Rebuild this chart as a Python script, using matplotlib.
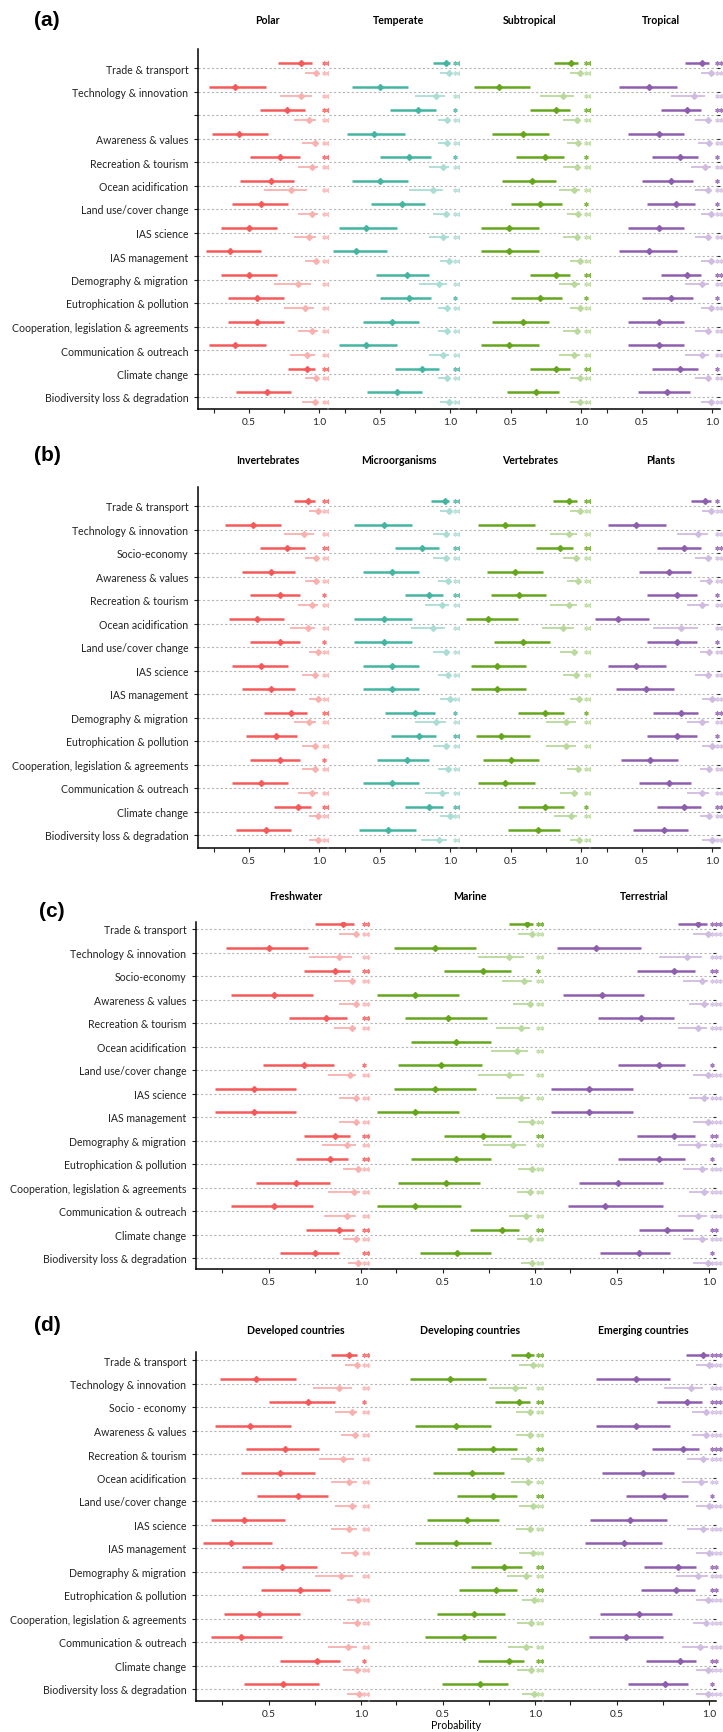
import matplotlib
matplotlib.use("Agg")
import matplotlib.pyplot as plt
from matplotlib.transforms import offset_copy

plt.rcParams['font.family'] = ['Lato', 'DejaVu Sans']

# ---- row labels ----
rows_a = ["Trade & transport", "Technology & innovation", "", "Awareness & values",
          "Recreation & tourism", "Ocean acidification", "Land use/cover change",
          "IAS science", "IAS management", "Demography & migration",
          "Eutrophication & pollution", "Cooperation, legislation & agreements",
          "Communication & outreach", "Climate change", "Biodiversity loss & degradation"]
rows_bc = rows_a[:2] + ["Socio-economy"] + rows_a[3:]
rows_d = rows_a[:2] + ["Socio - economy"] + rows_a[3:]

# ---- colours (dark, light) ----
red = ("#F55A5A", "#F9B1AF")
teal = ("#45B5A2", "#AADDD4")
green = ("#66A61E", "#BAD99C")
purple = ("#8E5EAE", "#D0BBE1")

# ---- data: (low, estimate, high) per row; stars = (dark, light) ----
# panel (a)
polar_dark = [(0.71, 0.87, 0.95), (0.22, 0.40, 0.62), (0.58, 0.77, 0.90), (0.24, 0.43, 0.64),
              (0.51, 0.72, 0.86), (0.44, 0.66, 0.82), (0.38, 0.59, 0.78), (0.30, 0.50, 0.70),
              (0.20, 0.37, 0.59), (0.30, 0.50, 0.70), (0.35, 0.56, 0.75), (0.35, 0.56, 0.75),
              (0.22, 0.40, 0.62), (0.78, 0.91, 0.97), (0.41, 0.63, 0.80)]
polar_light = [(0.90, 0.98, 0.99), (0.72, 0.87, 0.95), (0.82, 0.93, 0.98), (0.88, 0.97, 0.99),
               (0.85, 0.95, 0.99), (0.61, 0.80, 0.91), (0.85, 0.95, 0.99), (0.82, 0.93, 0.98),
               (0.90, 0.98, 0.99), (0.68, 0.85, 0.94), (0.75, 0.90, 0.96), (0.85, 0.95, 0.99),
               (0.79, 0.91, 0.97), (0.90, 0.98, 0.99), (0.88, 0.97, 0.99)]
polar_stars = [(3, 3), (0, 3), (3, 3), (0, 3), (3, 3), (0, 2), (0, 3), (0, 3),
               (0, 3), (0, 3), (0, 3), (0, 3), (0, 3), (3, 3), (0, 3)]

temperate_dark = [(0.88, 0.97, 0.995), (0.30, 0.50, 0.70), (0.57, 0.77, 0.90), (0.27, 0.46, 0.68),
                  (0.50, 0.71, 0.86), (0.30, 0.50, 0.70), (0.44, 0.66, 0.82), (0.21, 0.40, 0.62),
                  (0.17, 0.33, 0.55), (0.47, 0.69, 0.85), (0.50, 0.71, 0.86), (0.38, 0.59, 0.78),
                  (0.21, 0.40, 0.62), (0.61, 0.80, 0.92), (0.41, 0.62, 0.80)]
temperate_light = [(0.93, 0.99, 1.0), (0.75, 0.90, 0.96), (0.91, 0.98, 1.0), (0.91, 0.98, 1.0),
                   (0.85, 0.95, 0.99), (0.71, 0.88, 0.95), (0.88, 0.97, 1.0), (0.85, 0.95, 0.99),
                   (0.93, 0.99, 1.0), (0.78, 0.92, 0.98), (0.91, 0.98, 1.0), (0.91, 0.98, 1.0),
                   (0.85, 0.95, 0.99), (0.91, 0.98, 1.0), (0.93, 0.99, 1.0)]
temperate_stars = [(3, 3), (0, 3), (1, 3), (0, 3), (1, 3), (0, 3), (0, 3), (0, 3),
                   (0, 3), (0, 3), (1, 3), (0, 3), (0, 3), (2, 3), (0, 3)]

subtropical_dark = [(0.81, 0.93, 0.98), (0.24, 0.42, 0.64), (0.64, 0.82, 0.92), (0.37, 0.59, 0.77),
                    (0.54, 0.74, 0.88), (0.44, 0.65, 0.82), (0.50, 0.71, 0.86), (0.29, 0.49, 0.70),
                    (0.29, 0.49, 0.70), (0.64, 0.82, 0.92), (0.50, 0.71, 0.86), (0.37, 0.59, 0.77),
                    (0.29, 0.49, 0.70), (0.64, 0.82, 0.92), (0.47, 0.68, 0.84)]
subtropical_light = [(0.92, 0.99, 1.0), (0.71, 0.87, 0.95), (0.87, 0.97, 0.99), (0.90, 0.98, 0.995),
                     (0.87, 0.97, 0.99), (0.84, 0.95, 0.99), (0.90, 0.98, 0.995), (0.87, 0.97, 0.99),
                     (0.92, 0.99, 1.0), (0.84, 0.95, 0.99), (0.92, 0.99, 1.0), (0.87, 0.97, 0.99),
                     (0.84, 0.95, 0.99), (0.92, 0.99, 1.0), (0.92, 0.99, 1.0)]
subtropical_stars = [(3, 3), (0, 3), (2, 3), (0, 3), (1, 3), (0, 3), (1, 3), (0, 3),
                     (0, 3), (2, 3), (1, 3), (0, 3), (0, 3), (2, 3), (0, 3)]

tropical_dark = [(0.81, 0.93, 0.98), (0.34, 0.55, 0.75), (0.64, 0.82, 0.92), (0.40, 0.62, 0.80),
                 (0.57, 0.77, 0.90), (0.50, 0.71, 0.86), (0.54, 0.74, 0.88), (0.40, 0.62, 0.80),
                 (0.34, 0.55, 0.75), (0.64, 0.82, 0.92), (0.50, 0.71, 0.86), (0.40, 0.62, 0.80),
                 (0.40, 0.62, 0.80), (0.57, 0.77, 0.90), (0.47, 0.68, 0.84)]
tropical_light = [(0.92, 0.99, 1.0), (0.71, 0.87, 0.95), (0.88, 0.97, 0.99), (0.90, 0.98, 0.995),
                  (0.85, 0.95, 0.99), (0.88, 0.97, 0.99), (0.92, 0.99, 1.0), (0.88, 0.97, 0.99),
                  (0.92, 0.99, 1.0), (0.81, 0.93, 0.98), (0.92, 0.99, 1.0), (0.88, 0.97, 0.99),
                  (0.81, 0.93, 0.98), (0.88, 0.97, 0.99), (0.92, 0.99, 1.0)]
tropical_stars = [(3, 3), (0, 3), (2, 3), (0, 3), (1, 3), (1, 3), (1, 3), (0, 3),
                  (0, 3), (2, 3), (1, 3), (0, 3), (0, 3), (1, 3), (0, 3)]

# panel (b)
invert_dark = [(0.82, 0.92, 0.97), (0.33, 0.53, 0.73), (0.58, 0.77, 0.90), (0.45, 0.66, 0.83),
               (0.51, 0.72, 0.86), (0.36, 0.56, 0.75), (0.51, 0.72, 0.86), (0.38, 0.59, 0.78),
               (0.45, 0.66, 0.83), (0.61, 0.80, 0.91), (0.48, 0.69, 0.84), (0.51, 0.72, 0.86),
               (0.38, 0.59, 0.78), (0.68, 0.85, 0.94), (0.41, 0.62, 0.80)]
invert_light = [(0.93, 0.99, 1.0), (0.75, 0.89, 0.96), (0.90, 0.98, 0.995), (0.90, 0.98, 0.995),
                (0.85, 0.95, 0.99), (0.79, 0.92, 0.97), (0.93, 0.99, 1.0), (0.88, 0.97, 0.99),
                (0.93, 0.99, 1.0), (0.82, 0.93, 0.98), (0.88, 0.97, 0.99), (0.88, 0.97, 0.99),
                (0.85, 0.95, 0.99), (0.93, 0.99, 1.0), (0.93, 0.99, 1.0)]
invert_stars = [(3, 3), (0, 3), (2, 3), (0, 3), (1, 3), (0, 3), (1, 3), (0, 3),
                (0, 3), (2, 3), (0, 3), (1, 3), (0, 3), (3, 3), (0, 3)]

micro_dark = [(0.86, 0.96, 0.99), (0.32, 0.53, 0.73), (0.61, 0.80, 0.92), (0.38, 0.59, 0.78),
              (0.68, 0.85, 0.95), (0.32, 0.53, 0.73), (0.32, 0.53, 0.73), (0.38, 0.59, 0.78),
              (0.38, 0.59, 0.78), (0.54, 0.75, 0.89), (0.58, 0.78, 0.90), (0.48, 0.69, 0.85),
              (0.38, 0.59, 0.78), (0.68, 0.85, 0.95), (0.35, 0.56, 0.76)]
micro_light = [(0.93, 0.99, 1.0), (0.88, 0.97, 0.995), (0.88, 0.97, 0.995), (0.91, 0.985, 1.0),
               (0.82, 0.94, 0.99), (0.72, 0.88, 0.96), (0.88, 0.97, 0.995), (0.91, 0.985, 1.0),
               (0.93, 0.995, 1.0), (0.75, 0.90, 0.97), (0.88, 0.97, 0.995), (0.91, 0.985, 1.0),
               (0.82, 0.94, 0.99), (0.93, 0.995, 1.0), (0.79, 0.92, 0.98)]
micro_stars = [(3, 3), (0, 3), (2, 3), (0, 3), (3, 3), (0, 3), (0, 3), (0, 3),
               (0, 3), (1, 3), (2, 3), (0, 3), (0, 3), (3, 3), (0, 3)]

vert_dark = [(0.80, 0.91, 0.97), (0.27, 0.46, 0.67), (0.68, 0.85, 0.94), (0.33, 0.53, 0.73),
             (0.36, 0.56, 0.75), (0.18, 0.34, 0.55), (0.38, 0.59, 0.78), (0.22, 0.40, 0.61),
             (0.22, 0.40, 0.61), (0.55, 0.74, 0.88), (0.25, 0.43, 0.64), (0.30, 0.50, 0.70),
             (0.27, 0.46, 0.67), (0.55, 0.74, 0.88), (0.48, 0.69, 0.85)]
vert_light = [(0.92, 0.99, 1.0), (0.78, 0.91, 0.97), (0.87, 0.96, 0.99), (0.90, 0.98, 0.99),
              (0.78, 0.91, 0.97), (0.72, 0.87, 0.95), (0.85, 0.95, 0.98), (0.87, 0.96, 0.99),
              (0.92, 0.985, 1.0), (0.75, 0.89, 0.96), (0.75, 0.89, 0.96), (0.90, 0.98, 0.99),
              (0.85, 0.95, 0.98), (0.81, 0.93, 0.97), (0.92, 0.985, 1.0)]
vert_stars = [(3, 3), (0, 3), (3, 3), (0, 3), (0, 3), (0, 3), (0, 3), (0, 3),
              (0, 3), (1, 3), (0, 3), (0, 3), (0, 3), (1, 3), (0, 3)]

plants_dark = [(0.85, 0.95, 0.99), (0.26, 0.46, 0.67), (0.61, 0.80, 0.92), (0.48, 0.69, 0.85),
               (0.54, 0.75, 0.89), (0.17, 0.33, 0.55), (0.54, 0.75, 0.89), (0.26, 0.46, 0.67),
               (0.32, 0.53, 0.73), (0.58, 0.78, 0.90), (0.54, 0.75, 0.89), (0.35, 0.56, 0.76),
               (0.48, 0.69, 0.85), (0.61, 0.80, 0.92), (0.44, 0.66, 0.83)]
plants_light = [(0.93, 0.99, 1.0), (0.75, 0.90, 0.97), (0.88, 0.97, 1.0), (0.91, 0.98, 1.0),
                (0.82, 0.93, 0.98), (0.58, 0.78, 0.90), (0.91, 0.98, 1.0), (0.88, 0.97, 1.0),
                (0.93, 0.995, 1.0), (0.82, 0.93, 0.98), (0.93, 0.995, 1.0), (0.91, 0.98, 1.0),
                (0.82, 0.93, 0.98), (0.91, 0.98, 1.0), (0.93, 0.995, 1.0)]
plants_stars = [(1, 3), (0, 3), (2, 3), (0, 3), (1, 3), (0, 2), (1, 3), (0, 3),
                (0, 3), (2, 3), (1, 3), (0, 3), (0, 3), (2, 3), (0, 3)]

# panel (c)
fresh_dark = [(0.75, 0.90, 0.96), (0.27, 0.50, 0.71), (0.69, 0.86, 0.94), (0.30, 0.53, 0.74),
              (0.61, 0.81, 0.92), None, (0.47, 0.69, 0.85), (0.21, 0.42, 0.65),
              (0.21, 0.42, 0.65), (0.69, 0.86, 0.94), (0.65, 0.83, 0.93), (0.43, 0.65, 0.83),
              (0.30, 0.53, 0.74), (0.70, 0.88, 0.96), (0.56, 0.75, 0.88)]
fresh_light = [(0.88, 0.97, 0.98), (0.72, 0.88, 0.95), (0.85, 0.95, 0.97), (0.88, 0.97, 0.98),
               (0.85, 0.95, 0.97), None, (0.82, 0.94, 0.97), (0.88, 0.97, 0.98),
               (0.88, 0.97, 0.98), (0.79, 0.92, 0.97), (0.90, 0.98, 0.99), (0.82, 0.96, 0.99),
               (0.80, 0.92, 0.97), (0.90, 0.97, 0.99), (0.93, 0.98, 0.99)]
fresh_stars = [(3, 3), (0, 3), (3, 3), (0, 3), (3, 3), (0, 0), (1, 3), (0, 3),
               (0, 3), (3, 3), (3, 3), (0, 3), (0, 3), (3, 3), (2, 2)]

marine_dark = [(0.855, 0.955, 0.985), (0.24, 0.46, 0.68), (0.51, 0.72, 0.87), (0.15, 0.35, 0.59),
               (0.30, 0.53, 0.74), (0.33, 0.57, 0.76), (0.26, 0.49, 0.71), (0.24, 0.46, 0.68),
               (0.15, 0.35, 0.59), (0.51, 0.72, 0.87), (0.33, 0.57, 0.76), (0.26, 0.52, 0.70),
               (0.15, 0.35, 0.60), (0.65, 0.82, 0.91), (0.38, 0.58, 0.76)]
marine_light = [(0.905, 0.98, 0.99), (0.69, 0.86, 0.94), (0.82, 0.94, 0.98), (0.88, 0.97, 0.985),
                (0.79, 0.92, 0.97), (0.76, 0.90, 0.96), (0.69, 0.86, 0.94), (0.79, 0.92, 0.97),
                (0.905, 0.98, 0.99), (0.72, 0.88, 0.95), (0.905, 0.98, 0.99), (0.90, 0.97, 0.99),
                (0.86, 0.95, 0.98), (0.90, 0.97, 0.99), (0.92, 0.98, 0.99)]
marine_stars = [(3, 3), (0, 3), (1, 3), (0, 3), (0, 3), (0, 3), (0, 3), (0, 3),
                (0, 3), (3, 3), (0, 3), (0, 3), (0, 3), (2, 3), (0, 3)]

terr_dark = [(0.83, 0.94, 0.985), (0.18, 0.39, 0.63), (0.61, 0.81, 0.92), (0.21, 0.42, 0.65),
             (0.40, 0.63, 0.81), None, (0.51, 0.73, 0.87), (0.15, 0.35, 0.59),
             (0.15, 0.35, 0.59), (0.61, 0.81, 0.92), (0.51, 0.73, 0.87), (0.30, 0.51, 0.75),
             (0.24, 0.44, 0.75), (0.62, 0.77, 0.91), (0.41, 0.62, 0.79)]
terr_light = [(0.91, 0.99, 0.995), (0.73, 0.88, 0.96), (0.86, 0.96, 0.99), (0.89, 0.97, 0.995),
              (0.83, 0.94, 0.985), None, (0.91, 0.99, 0.995), (0.89, 0.97, 0.995),
              (0.91, 0.99, 0.995), (0.83, 0.94, 0.985), (0.86, 0.96, 0.99), (0.89, 0.97, 0.995),
              (0.83, 0.94, 0.985), (0.86, 0.96, 0.99), (0.91, 0.99, 0.995)]
terr_stars = [(3, 3), (0, 3), (2, 3), (0, 3), (0, 3), (0, 0), (1, 3), (0, 3),
              (0, 3), (2, 3), (1, 3), (0, 3), (0, 3), (2, 3), (1, 3)]

# panel (d)
developed_dark = [(0.835, 0.935, 0.975), (0.24, 0.43, 0.65), (0.505, 0.71, 0.86), (0.21, 0.40, 0.62),
                  (0.38, 0.59, 0.77), (0.35, 0.56, 0.75), (0.44, 0.66, 0.82), (0.19, 0.37, 0.59),
                  (0.145, 0.30, 0.52), (0.36, 0.57, 0.76), (0.46, 0.67, 0.83), (0.26, 0.45, 0.67),
                  (0.19, 0.35, 0.57), (0.56, 0.76, 0.885), (0.37, 0.58, 0.77)]
developed_light = [(0.91, 0.975, 0.985), (0.74, 0.88, 0.95), (0.86, 0.95, 0.975), (0.89, 0.965, 0.98),
                   (0.77, 0.90, 0.96), (0.835, 0.935, 0.975), (0.86, 0.95, 0.975), (0.835, 0.935, 0.975),
                   (0.89, 0.965, 0.98), (0.75, 0.89, 0.955), (0.92, 0.98, 0.995), (0.90, 0.975, 0.995),
                   (0.82, 0.93, 0.975), (0.90, 0.975, 0.995), (0.92, 0.985, 1.0)]
developed_stars = [(3, 3), (0, 3), (1, 3), (0, 3), (0, 3), (0, 2), (0, 3), (0, 3),
                   (0, 3), (0, 3), (0, 3), (0, 3), (0, 3), (1, 3), (0, 3)]

developing_dark = [(0.87, 0.96, 0.99), (0.325, 0.54, 0.735), (0.78, 0.91, 0.97), (0.35, 0.57, 0.76),
                   (0.58, 0.77, 0.90), (0.45, 0.66, 0.83), (0.58, 0.77, 0.90), (0.415, 0.63, 0.805),
                   (0.35, 0.57, 0.76), (0.655, 0.83, 0.925), (0.59, 0.79, 0.90), (0.47, 0.67, 0.835),
                   (0.405, 0.615, 0.79), (0.69, 0.855, 0.94), (0.495, 0.70, 0.85)]
developing_light = [(0.91, 0.985, 0.99), (0.75, 0.89, 0.955), (0.895, 0.97, 0.99), (0.895, 0.97, 0.99),
                    (0.87, 0.96, 0.985), (0.87, 0.96, 0.985), (0.91, 0.985, 0.99), (0.895, 0.97, 0.99),
                    (0.91, 0.985, 0.99), (0.845, 0.95, 0.98), (0.925, 0.99, 1.0), (0.90, 0.975, 0.99),
                    (0.85, 0.95, 0.985), (0.90, 0.975, 0.99), (0.925, 0.99, 1.0)]
developing_stars = [(3, 3), (0, 3), (3, 3), (0, 3), (2, 3), (0, 3), (2, 3), (0, 3),
                    (0, 3), (2, 3), (2, 3), (0, 3), (0, 3), (3, 3), (0, 3)]

emerging_dark = [(0.875, 0.965, 0.995), (0.39, 0.605, 0.79), (0.72, 0.88, 0.96), (0.39, 0.605, 0.79),
                 (0.69, 0.86, 0.945), (0.42, 0.64, 0.81), (0.55, 0.755, 0.887), (0.36, 0.575, 0.77),
                 (0.33, 0.54, 0.745), (0.65, 0.83, 0.93), (0.63, 0.82, 0.92), (0.41, 0.62, 0.80),
                 (0.35, 0.55, 0.75), (0.66, 0.84, 0.93), (0.56, 0.76, 0.885)]
emerging_light = [(0.925, 0.995, 1.0), (0.755, 0.90, 0.965), (0.905, 0.98, 0.995), (0.905, 0.98, 0.995),
                  (0.88, 0.965, 0.995), (0.85, 0.955, 0.99), (0.925, 0.995, 1.0), (0.88, 0.965, 0.995),
                  (0.925, 0.995, 1.0), (0.82, 0.94, 0.99), (0.93, 0.99, 1.0), (0.91, 0.98, 0.995),
                  (0.85, 0.95, 0.99), (0.93, 0.99, 1.0), (0.93, 0.99, 1.0)]
emerging_stars = [(3, 3), (0, 3), (3, 3), (0, 3), (3, 3), (0, 2), (1, 3), (0, 3),
                  (0, 3), (2, 3), (2, 3), (0, 3), (0, 3), (2, 3), (1, 3)]

# ---- panel definitions ----
panels = [
    dict(tag="(a)", rows=rows_a, titles=["Polar", "Temperate", "Subtropical", "Tropical"],
         cols=[(polar_dark, polar_light, polar_stars, red), (temperate_dark, temperate_light, temperate_stars, teal),
               (subtropical_dark, subtropical_light, subtropical_stars, green), (tropical_dark, tropical_light, tropical_stars, purple)],
         top=50, first=69, axis=410, title_y=21, tag_xy=(47, 21)),
    dict(tag="(b)", rows=rows_bc, titles=["Invertebrates", "Microorganisms", "Vertebrates", "Plants"],
         cols=[(invert_dark, invert_light, invert_stars, red), (micro_dark, micro_light, micro_stars, teal),
               (vert_dark, vert_light, vert_stars, green), (plants_dark, plants_light, plants_stars, purple)],
         top=488, first=507, axis=849, title_y=461, tag_xy=(47, 456)),
    dict(tag="(c)", rows=rows_bc, titles=["Freshwater", "Marine", "Terrestrial"],
         cols=[(fresh_dark, fresh_light, fresh_stars, red), (marine_dark, marine_light, marine_stars, green),
               (terr_dark, terr_light, terr_stars, purple)],
         top=923, first=930, axis=1270, title_y=897, tag_xy=(52, 912)),
    dict(tag="(d)", rows=rows_d, titles=["Developed countries", "Developing countries", "Emerging countries"],
         cols=[(developed_dark, developed_light, developed_stars, red), (developing_dark, developing_light, developing_stars, green),
               (emerging_dark, emerging_light, emerging_stars, purple)],
         top=1353, first=1361, axis=1702, title_y=1331, tag_xy=(47, 1326)),
]

W, H = 723, 1733
ROW = 23.5
fig = plt.figure(figsize=(W / 100, H / 100), dpi=100)


def draw_column(ax, dark, light, stars, colors, star_x):
    dc, lc = colors
    for i in range(len(dark)):
        ax.axhline(i, color="#b5b5b5", lw=0.8, ls=(0, (2, 2)), zorder=0)
        for iv, y, c, lw in ((dark[i], i - 0.2, dc, 1.8), (light[i], i + 0.2, lc, 1.3)):
            if iv is None:
                continue
            ax.plot([iv[0], iv[2]], [y, y], color=c, lw=lw, solid_capstyle="butt", zorder=2)
            ax.plot(iv[1], y, marker="D", ms=3.0, color=c, mec=c, zorder=3)
        for n, y, c in ((stars[i][0], i - 0.2, dc), (stars[i][1], i + 0.2, lc)):
            for k in range(n):
                tr = offset_copy(ax.transData, fig=fig, x=k * 2.7, units="points")
                ax.plot(star_x, y, marker=(6, 2, 0), ms=3.0, mew=0.9, color=c,
                        alpha=0.8, transform=tr, clip_on=False, zorder=3)


for p in panels:
    ncol = len(p["cols"])
    if ncol == 4:
        x0, x1, xlim, star_x, tx = 198, 720, (0.14, 1.055), 1.035, 0.54
    else:
        x0, x1, xlim, star_x, tx = 196, 716, (0.11, 1.035), 1.015, 0.58
    gap = 2
    cw = (x1 - x0 - gap * (ncol - 1)) / ncol
    nrow = len(p["rows"])
    last = p["first"] + (nrow - 1) * ROW
    ylim = (nrow - 1 + (p["axis"] - last) / ROW, -(p["first"] - p["top"]) / ROW)
    h = p["axis"] - p["top"]
    for j, (dark, light, stars, colors) in enumerate(p["cols"]):
        left = x0 + j * (cw + gap)
        ax = fig.add_axes([left / W, 1 - p["axis"] / H, cw / W, h / H])
        ax.set_xlim(*xlim)
        ax.set_ylim(*ylim)
        draw_column(ax, dark, light, stars, colors, star_x)
        for s in ("top", "right"):
            ax.spines[s].set_visible(False)
        ax.spines["bottom"].set_linewidth(1.1)
        ax.set_xticks([0.25, 0.5, 0.75, 1.0])
        ax.set_xticklabels(["", "0.5", "", "1.0"])
        ax.tick_params(axis="x", length=3, width=0.8, labelsize=7.3, pad=3, colors="#222222")
        ax.set_yticks(range(nrow))
        if j == 0:
            ax.spines["left"].set_linewidth(1.1)
            ax.set_yticklabels(p["rows"])
            ax.tick_params(axis="y", length=3, width=0.8, labelsize=7.6, pad=4, colors="#222222")
        else:
            ax.spines["left"].set_visible(False)
            ax.tick_params(axis="y", left=False, labelleft=False)
        if j == ncol - 1:
            ax.tick_params(axis="y", right=True, direction="in", length=2.5, width=0.8, color="#333333")
        fig.text((left + tx * cw) / W, 1 - p["title_y"] / H, p["titles"][j],
                 ha="center", va="center", fontsize=7.6, fontweight="bold")
    fig.text(p["tag_xy"][0] / W, 1 - p["tag_xy"][1] / H, p["tag"], ha="center", va="center",
             fontsize=15, fontweight="bold", family=["Liberation Sans", "DejaVu Sans"])

fig.text(456 / W, 1 - 1726 / H, "Probability", ha="center", va="center", fontsize=7.6)

fig.savefig("out.png", dpi=100)
